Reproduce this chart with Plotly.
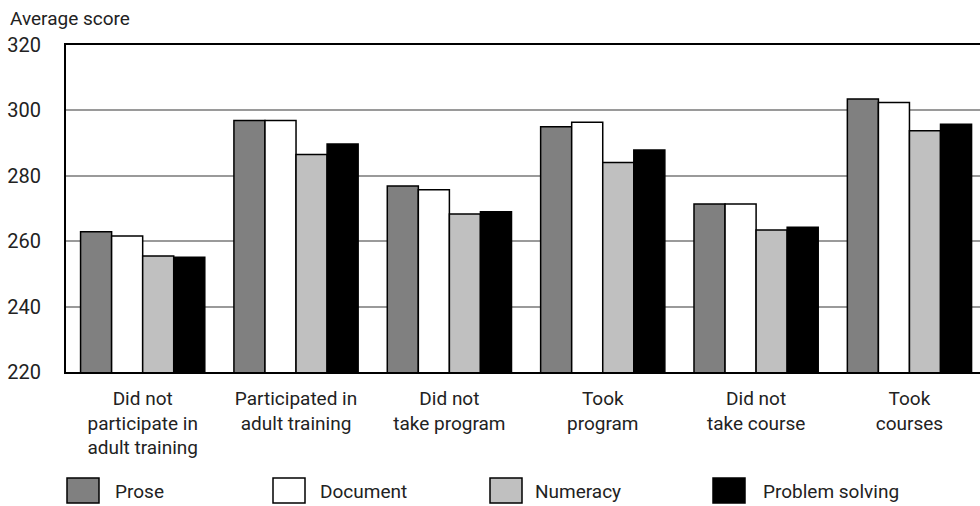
import plotly.graph_objects as go

# Average literacy scores by training participation
CATEGORIES = [
    "Did not<br>participate in<br>adult training",
    "Participated in<br>adult training",
    "Did not<br>take program",
    "Took<br>program",
    "Did not<br>take course",
    "Took<br>courses",
]
PROSE = [262.9, 296.9, 276.9, 295.0, 271.4, 303.5]
DOCUMENT = [261.6, 296.9, 275.7, 296.4, 271.4, 302.4]
NUMERACY = [255.5, 286.5, 268.3, 284.1, 263.4, 293.8]
PROBLEM_SOLVING = [255.1, 289.7, 269.0, 287.9, 264.3, 295.8]

SERIES = [
    ("Prose", PROSE, "#808080"),
    ("Document", DOCUMENT, "#ffffff"),
    ("Numeracy", NUMERACY, "#c0c0c0"),
    ("Problem solving", PROBLEM_SOLVING, "#000000"),
]

FONT = "Roboto, Liberation Sans, sans-serif"
W, H = 980, 506
L, R, T, B = 66, 0, 45, 134


def px_x(px):
    return (px - L) / (W - L - R)


def px_y(py):
    return (H - B - py) / (H - T - B)


fig = go.Figure()
for name, vals, color in SERIES:
    fig.add_trace(go.Bar(
        x=list(range(len(CATEGORIES))), y=vals, name=name,
        marker=dict(color=color, line=dict(color="black", width=1.5)),
        showlegend=False,
    ))

# hand-drawn legend with large swatches
legend_pos = [(67, 113), (273, 318), (490, 533), (713, 761)]
shapes = []
annotations = []
for (name, _, color), (bx, tx) in zip(SERIES, legend_pos):
    shapes.append(dict(
        type="rect", xref="paper", yref="paper",
        x0=px_x(bx), x1=px_x(bx + 32), y0=px_y(503), y1=px_y(478),
        fillcolor=color, line=dict(color="black", width=1.5),
    ))
    annotations.append(dict(
        text=name, xref="paper", yref="paper", x=px_x(tx), y=px_y(491),
        xanchor="left", yanchor="middle", showarrow=False,
        font=dict(size=19, color="#222"),
    ))

annotations.append(dict(
    text="Average score", xref="paper", yref="paper", x=px_x(8), y=px_y(18),
    xanchor="left", yanchor="middle", showarrow=False,
    font=dict(size=19, color="#222"),
))

fig.update_layout(
    width=W, height=H,
    margin=dict(l=L, r=R, t=T, b=B),
    paper_bgcolor="white", plot_bgcolor="white",
    font=dict(family=FONT, color="#222"),
    barmode="group", bargap=0.19, bargroupgap=0,
    shapes=shapes, annotations=annotations,
    xaxis=dict(
        range=[-0.5, 5.46], tickmode="array",
        tickvals=list(range(len(CATEGORIES))), ticktext=CATEGORIES,
        showline=True, linecolor="black", linewidth=2, mirror=True,
        showgrid=False, ticks="", tickfont=dict(size=19),
        ticklabelstandoff=8,
    ),
    yaxis=dict(
        range=[220, 320], dtick=20,
        showline=True, linecolor="black", linewidth=2,
        showgrid=True, gridcolor="#9a9a9a", gridwidth=1.5,
        ticks="", tickfont=dict(size=20), ticklabelstandoff=19,
        zeroline=False,
    ),
)

fig.write_html(
    "out.html",
    config={"displayModeBar": False},
    post_script="document.body.style.margin='0';",
)
